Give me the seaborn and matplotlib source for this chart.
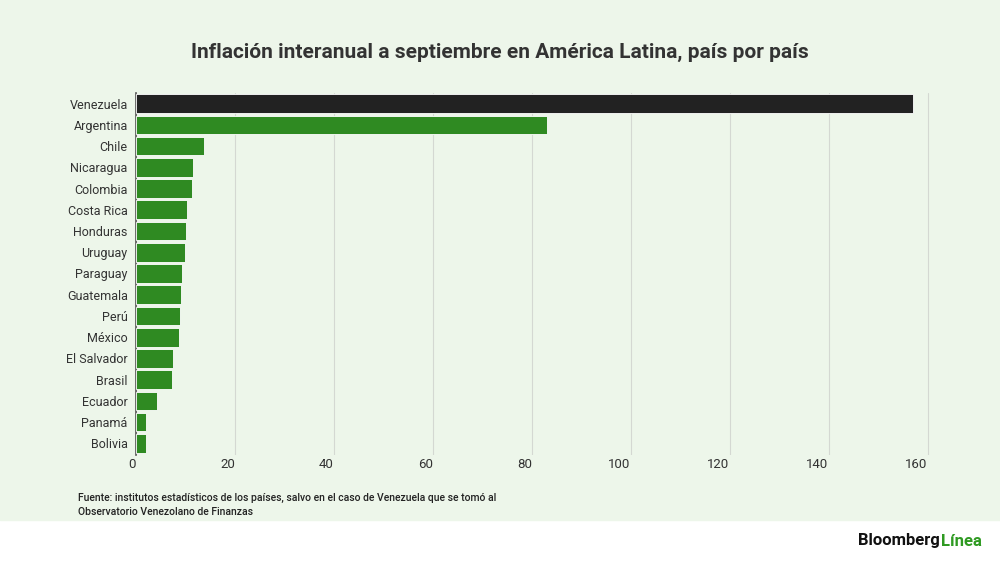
import matplotlib
matplotlib.use("Agg")
import matplotlib.pyplot as plt
import seaborn as sns
import pandas as pd

countries = ["Venezuela","Argentina","Chile","Nicaragua","Colombia","Costa Rica","Honduras",
             "Uruguay","Paraguay","Guatemala","Perú","México","El Salvador","Brasil","Ecuador",
             "Panamá","Bolivia"]
values = [157.0,83.0,13.7,11.5,11.4,10.4,10.1,9.9,9.3,9.1,8.9,8.7,7.5,7.2,4.2,2.0,2.0]
ticks = [0,20,40,60,80,100,120,140,160]

sns.set_theme(style="white")
plt.rcParams['font.family'] = ['Roboto', 'DejaVu Sans']
bg = "#edf6ea"
fig = plt.figure(figsize=(10, 5.62), dpi=100)
fig.patch.set_facecolor("white")
fig.patches.append(plt.Rectangle((0, 42/562), 1, 1, transform=fig.transFigure, color=bg, zorder=-10))
ax = fig.add_axes([0.136, 1-455/562, 0.794, (455-93)/562])
ax.set_facecolor(bg)
df = pd.DataFrame({"c": countries, "v": values})
palette = ["#222222"] + ["#2f8a22"]*(len(countries)-1)
sns.barplot(data=df, y="c", x="v", hue="c", palette=palette, legend=False, ax=ax, saturation=1,
            width=0.88, edgecolor="white", linewidth=0.6, zorder=3)
ax.set_xlim(0, 160.5)
ax.set_xticks(ticks)
ax.set_xticklabels([str(t) for t in ticks], ha="right", fontsize=9.5, color="#333333")
ax.tick_params(axis="x", pad=2, length=0)
ax.tick_params(axis="y", length=0, labelsize=9, labelcolor="#333333", pad=6)
ax.set_xlabel(""); ax.set_ylabel("")
ax.grid(axis="x", color="#d4d8d2", linewidth=0.8, zorder=0)
for s in ["top","right","bottom"]:
    ax.spines[s].set_visible(False)
ax.spines["left"].set_color("#555555")
ax.spines["left"].set_linewidth(1.2)
ax.set_ylim(len(countries)-0.45, -0.5)
fig.text(0.5, 1-52/562, "Inflación interanual a septiembre en América Latina, país por país",
         ha="center", va="center", fontsize=15, fontweight="bold", color="#333333")
fig.text(0.078, 1-498/562, "Fuente: institutos estadísticos de los países, salvo en el caso de Venezuela que se tomó al",
         fontsize=7.5, color="#222222", va="center", fontweight="medium")
fig.text(0.078, 1-512/562, "Observatorio Venezolano de Finanzas",
         fontsize=7.5, color="#222222", va="center", fontweight="medium")
fig.text(0.94, 1-541/562, "Bloomberg", ha="right", va="center", fontsize=12, fontweight="bold", color="#111111")
fig.text(0.941, 1-541/562, "Línea", ha="left", va="center", fontsize=12, fontweight="bold", color="#2f9a22")
fig.savefig("out.png", dpi=100, facecolor=fig.get_facecolor())
